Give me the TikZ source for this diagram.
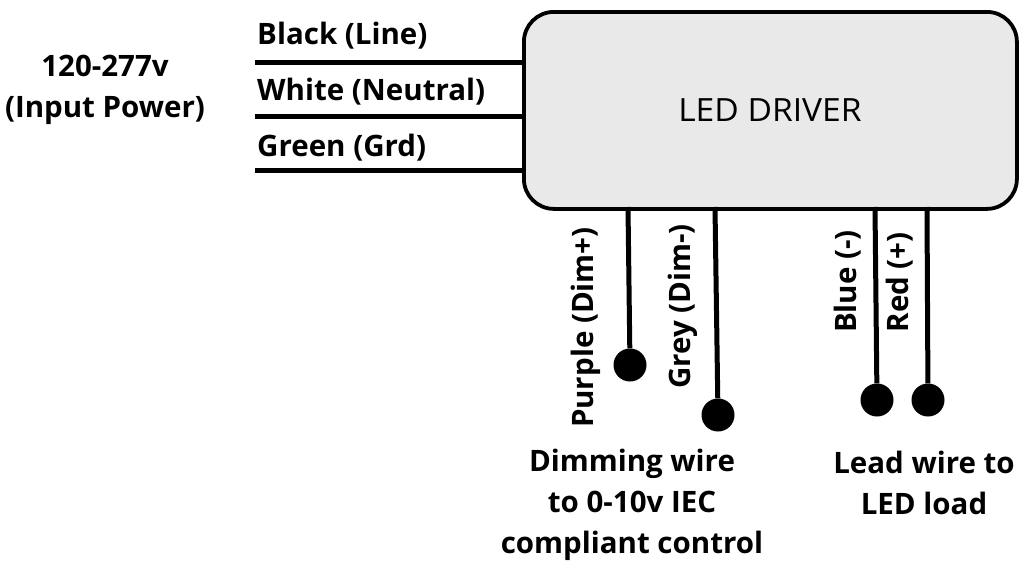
\documentclass[tikz,border=0pt]{standalone}
\usepackage{fontspec}
\setmainfont{Open Sans}
\begin{document}
\begin{tikzpicture}[x=1pt,y=-1pt,
  lbl/.style={font=\bfseries\fontsize{29.5}{41}\selectfont, inner sep=0pt},
  wire/.style={line width=5pt},
  dot/.style={circle, fill=black, minimum size=33pt, inner sep=0pt}]
\useasboundingbox (0,0) rectangle (1029,570);
\node[draw, line width=3.8pt, rounded corners=30pt, fill=gray!17, minimum width=493pt, minimum height=197pt, anchor=north west] (drv) at (522,10) {};
\node[font=\fontsize{32}{36}\selectfont, xscale=1.05] (dt) at (770,110) {LED DRIVER};
\coordinate (l1) at (255,62); \coordinate (l2) at (255,116); \coordinate (l3) at (255,170);
\draw[wire] (l1) -- (l1 -| drv.west);
\draw[wire] (l2) -- (l2 -| drv.west);
\draw[wire] (l3) -- (l3 -| drv.west);
\node[lbl, anchor=west] (t1) at (257,36) {Black (Line)};
\node[lbl, anchor=west] (t2) at (257,92) {White (Neutral)};
\node[lbl, anchor=west] (t3) at (257,148) {Green (Grd)};
\node[lbl, align=center] (inp) at (105,90) {120-277v\\(Input Power)};
\node[dot] (d1) at (630,365) {};
\node[dot] (d2) at (718,415) {};
\node[dot] (d3) at (877,400) {};
\node[dot] (d4) at (928,400) {};
\draw[wire] (628,207) -- (d1);
\draw[wire] (715,207) -- (d2);
\draw[wire] (875,207) -- (d3);
\draw[wire] (927,207) -- (d4);
\node[lbl, rotate=90, anchor=east] (v1) at (586,227) {Purple (Dim+)};
\node[lbl, rotate=90, anchor=east] (v2) at (683,224) {Grey (Dim-)};
\node[lbl, rotate=90, anchor=east] (v3) at (848,230) {Blue (-)};
\node[lbl, rotate=90, anchor=east] (v4) at (900,232) {Red (+)};
\node[lbl, align=center] (b1) at (632,505) {Dimming wire\\to 0-10v IEC\\compliant control};
\node[lbl, align=center] (b2) at (924,483) {Lead wire to\\LED load};
\end{tikzpicture}
\end{document}
